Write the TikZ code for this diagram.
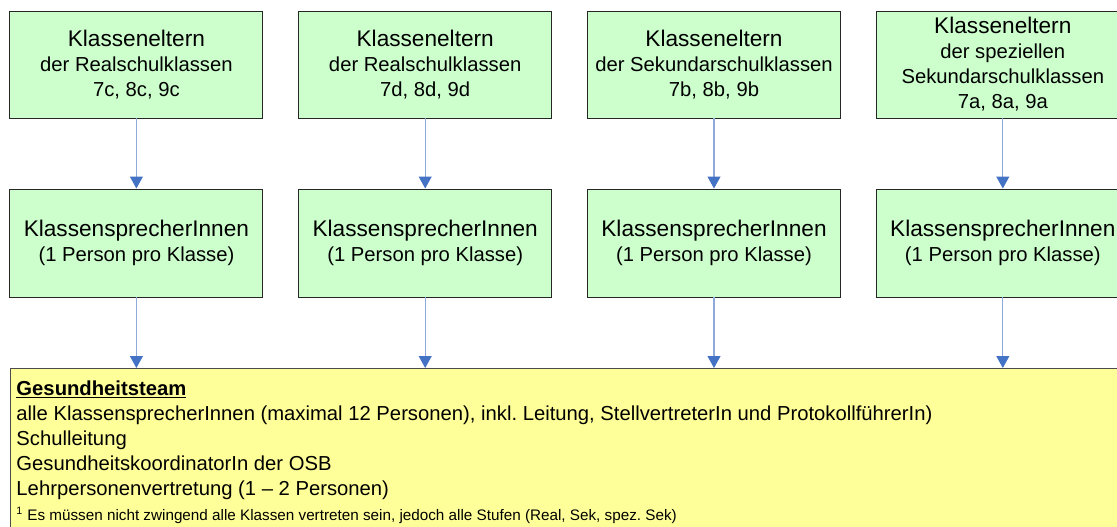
\documentclass[tikz,border=0pt]{standalone}
\usepackage{fontspec}
\setmainfont{Liberation Sans}
\definecolor{boxgreen}{RGB}{204,255,204}
\definecolor{boxyellow}{RGB}{255,255,153}
\definecolor{linkblue}{RGB}{142,170,219}
\definecolor{tipblue}{RGB}{68,114,196}
\usetikzlibrary{arrows.meta,positioning}
\newcommand{\bigtxt}[1]{{\fontsize{16.1}{17.8}\selectfont #1}}
\newcommand{\foottxt}{\fontsize{10.85}{17.8}\selectfont}
\frenchspacing

\begin{document}
\begin{tikzpicture}[
  elt/.style={draw=black!85,line width=0.7pt,fill=boxgreen,minimum width=6.325cm,minimum height=2.675cm,
    inner xsep=1pt,align=center,font=\fontsize{14.4}{17.8}\selectfont},
  rep/.style={elt,minimum height=2.7cm},
  team/.style={draw=black!70,line width=0.7pt,fill=boxyellow,align=flush left,text width=27.5cm,
    inner xsep=0.15cm,inner ysep=0.3cm,font=\fontsize{14.4}{17.8}\selectfont},
  arr/.style={-{Triangle[length=0.3cm,width=0.325cm,color=tipblue]},linkblue,line width=0.8pt}
]
  \useasboundingbox (0,0) rectangle (27.925,-13.175);

  % Klasseneltern
  \node[elt] (elt1) at (3.41,-1.6125) {\bigtxt{Klasseneltern}\\der Realschulklassen\\7c, 8c, 9c};
  \node[elt] (elt2) at (10.63,-1.6125) {\bigtxt{Klasseneltern}\\der Realschulklassen\\7d, 8d, 9d};
  \node[elt] (elt3) at (17.85,-1.6125) {\bigtxt{Klasseneltern}\\der Sekundarschulklassen\\7b, 8b, 9b};
  \node[elt] (elt4) at (25.07,-1.6125) {\bigtxt{Klasseneltern}\\der speziellen\\Sekundarschulklassen\\7a, 8a, 9a};

  % KlassensprecherInnen
  \node[rep] (rep1) at (3.41,-6.075) {\bigtxt{KlassensprecherInnen}\\(1 Person pro Klasse)};
  \node[rep] (rep2) at (10.63,-6.075) {\bigtxt{KlassensprecherInnen}\\(1 Person pro Klasse)};
  \node[rep] (rep3) at (17.85,-6.075) {\bigtxt{KlassensprecherInnen}\\(1 Person pro Klasse)};
  \node[rep] (rep4) at (25.07,-6.075) {\bigtxt{KlassensprecherInnen}\\(1 Person pro Klasse)};

  % Gesundheitsteam
  \node[team,anchor=north west] (team) at (0.25,-9.2) {\underline{\textbf{Gesundheitsteam}}\\
    alle KlassensprecherInnen (maximal 12 Personen), inkl. Leitung, StellvertreterIn und ProtokollführerIn)\\
    Schulleitung\\
    GesundheitskoordinatorIn der OSB\\
    Lehrpersonenvertretung (1 – 2 Personen)\\
    {\foottxt\textsuperscript{1} Es müssen nicht zwingend alle Klassen vertreten sein, jedoch alle Stufen (Real, Sek, spez. Sek)}};

  \draw[arr] (elt1) -- (rep1);
  \draw[arr] (elt2) -- (rep2);
  \draw[arr] (elt3) -- (rep3);
  \draw[arr] (elt4) -- (rep4);
  \draw[arr] (rep1) -- (rep1 |- team.north);
  \draw[arr] (rep2) -- (rep2 |- team.north);
  \draw[arr] (rep3) -- (rep3 |- team.north);
  \draw[arr] (rep4) -- (rep4 |- team.north);
\end{tikzpicture}
\end{document}
